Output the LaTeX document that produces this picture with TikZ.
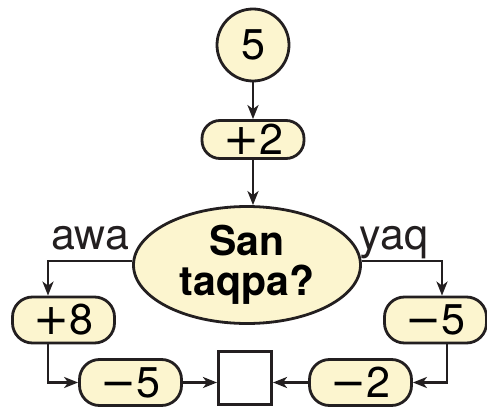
\documentclass[tikz,border=0pt]{standalone}
\usepackage{fontspec}
\setmainfont{TeX Gyre Heros}
\newfontfamily\signfont{DejaVu Sans}
\usepackage{tikz}
\usetikzlibrary{shapes.geometric, arrows.meta, positioning}
\definecolor{boxfill}{HTML}{FCF5CF}
\definecolor{inkdark}{HTML}{231F20}
\newcommand{\bigtext}{\fontsize{21.5}{22}\selectfont}
\newcommand{\splus}{{\signfont +}}
\newcommand{\sminus}{{\signfont −}}

\begin{document}
\begin{tikzpicture}[
    x=0.5pt, y=0.5pt,
    pill/.style = {rectangle, rounded corners=10pt, draw=inkdark, line width=1.4pt,
                   fill=boxfill, minimum width=51pt, minimum height=23pt,
                   inner sep=0pt, font=\bigtext},
    arrow/.style = {-{Stealth[length=7pt, width=5.5pt, inset=2pt]}, line width=1.2pt, color=inkdark},
    lbl/.style = {font=\bigtext, text=inkdark, text depth=0pt, inner sep=1pt}
  ]
  \useasboundingbox (0,0) rectangle (487,408);

  \node[circle, draw=inkdark, line width=1.4pt, fill=boxfill, minimum size=36pt,
        inner sep=0pt, font=\bigtext] (five) at (253,363) {5};
  \node[pill, minimum height=19pt, rounded corners=9pt] (plustwo) at (253,268.5) {\splus2};
  \node[ellipse, draw=inkdark, line width=1.4pt, fill=boxfill, minimum width=113.5pt,
        minimum height=58.5pt, inner sep=0pt, align=center,
        font=\fontsize{20.5}{21}\selectfont\bfseries] (ask) at (247,143) {San\\[-1pt]taqpa?};
  \node[pill] (pleight)   at (63.5,88)   {\splus8};
  \node[pill] (rightfive) at (435.5,88)  {\sminus5};
  \node[pill] (leftfive)  at (130.5,25.5) {\sminus5};
  \node[pill] (minustwo)  at (360.5,25.5) {\sminus2};
  \node[rectangle, draw=inkdark, line width=1.4pt, fill=white, minimum size=26.6pt] (square) at (245,30) {};

  \draw[arrow] (five.south) -- (plustwo.north);
  \draw[arrow] (plustwo.south) -- (plustwo.south |- ask.north);
  \draw[arrow] (ask.178) -| node[lbl, pos=0.25, above=4pt] {awa} ([xshift=-7.75pt]pleight.north);
  \draw[arrow] (ask.2) -| node[lbl, pos=0.2, above=4pt] {yaq} ([xshift=3.25pt]rightfive.north);
  \draw[arrow] ([xshift=-7.75pt]pleight.south) |- (leftfive.west);
  \draw[arrow] ([xshift=5.75pt]rightfive.south) |- (minustwo.east);
  \draw[arrow] (leftfive.east) -- (leftfive.east -| square.west);
  \draw[arrow] (minustwo.west) -- (minustwo.west -| square.east);
\end{tikzpicture}
\end{document}
